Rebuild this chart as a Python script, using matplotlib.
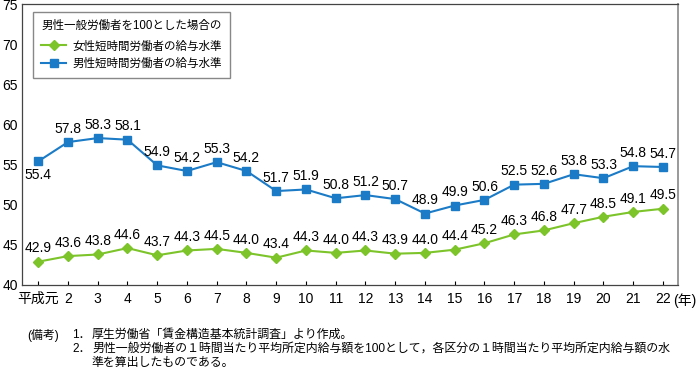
import matplotlib
matplotlib.use("Agg")
import matplotlib.pyplot as plt

plt.rcParams["font.family"] = ["Liberation Sans", "Noto Sans CJK JP", "DejaVu Sans"]

years = ["平成元", "2", "3", "4", "5", "6", "7", "8", "9", "10", "11",
         "12", "13", "14", "15", "16", "17", "18", "19", "20", "21", "22"]
female = [42.9, 43.6, 43.8, 44.6, 43.7, 44.3, 44.5, 44.0, 43.4, 44.3, 44.0,
          44.3, 43.9, 44.0, 44.4, 45.2, 46.3, 46.8, 47.7, 48.5, 49.1, 49.5]
male = [55.4, 57.8, 58.3, 58.1, 54.9, 54.2, 55.3, 54.2, 51.7, 51.9, 50.8,
        51.2, 50.7, 48.9, 49.9, 50.6, 52.5, 52.6, 53.8, 53.3, 54.8, 54.7]
yticks = [40, 45, 50, 55, 60, 65, 70, 75]

GREEN = "#7cc42a"
BLUE = "#1b7bc6"
W, H = 698, 370

fig = plt.figure(figsize=(W / 100, H / 100), dpi=100)
ax = fig.add_axes([22 / W, 1 - 285 / H, (678 - 22) / W, 281 / H])

x = list(range(len(years)))
ax.plot(x, female, color=GREEN, marker="D", markersize=5.5, lw=1.5,
        label="女性短時間労働者の給与水準")
ax.plot(x, male, color=BLUE, marker="s", markersize=5.5, lw=1.5,
        label="男性短時間労働者の給与水準")

for i, v in enumerate(female):
    ax.annotate(f"{v:.1f}", (i, v), xytext=(0, 4.5), textcoords="offset points",
                ha="center", va="bottom", fontsize=10)
for i, v in enumerate(male):
    below = i == 0
    ax.annotate(f"{v:.1f}", (i, v), xytext=(0, -5) if below else (0, 4.5),
                textcoords="offset points", ha="center",
                va="top" if below else "bottom", fontsize=10)

ax.set_ylim(40, 75)
ax.set_yticks(yticks)
ax.set_xlim(-0.545, 21.505)
ax.set_xticks(x)
ax.set_xticklabels(years)
ax.tick_params(axis="x", direction="in", length=3, labelsize=10, pad=5)
ax.tick_params(axis="y", length=0, labelsize=10, pad=3)
for s in ["left", "bottom", "top"]:
    ax.spines[s].set_color("#444444")
    ax.spines[s].set_linewidth(0.9)
ax.spines["right"].set_color("#999999")
ax.spines["right"].set_linewidth(1.4)

leg = fig.legend(loc="upper left", bbox_to_anchor=(33 / W, 1 - 12 / H),
                 title="男性一般労働者を100とした場合の", fontsize=8.3,
                 title_fontsize=8.3, fancybox=False, edgecolor="#888888",
                 handlelength=2.2, handletextpad=0.5, borderpad=0.7,
                 labelspacing=0.45, borderaxespad=0, framealpha=1)
leg.get_frame().set_linewidth(1.0)
leg._legend_box.align = "left"
leg._legend_box.sep = 6

fig.text(673 / W, 1 - 301 / H, "(年)", fontsize=10, va="center", ha="left")

fn = 8.6
fig.text(27 / W, 1 - 335 / H, "(備考)", fontsize=fn, va="center")
fig.text(72 / W, 1 - 335 / H, "1．", fontsize=fn, va="center")
fig.text(92 / W, 1 - 335 / H, "厚生労働省「賃金構造基本統計調査」より作成。",
         fontsize=fn, va="center")
fig.text(72 / W, 1 - 349 / H, "2．", fontsize=fn, va="center")
fig.text(92 / W, 1 - 349 / H,
         "男性一般労働者の１時間当たり平均所定内給与額を100として，各区分の１時間当たり平均所定内給与額の水",
         fontsize=fn, va="center")
fig.text(92 / W, 1 - 363 / H, "準を算出したものである。", fontsize=fn, va="center")

fig.savefig("out.png", dpi=100)
